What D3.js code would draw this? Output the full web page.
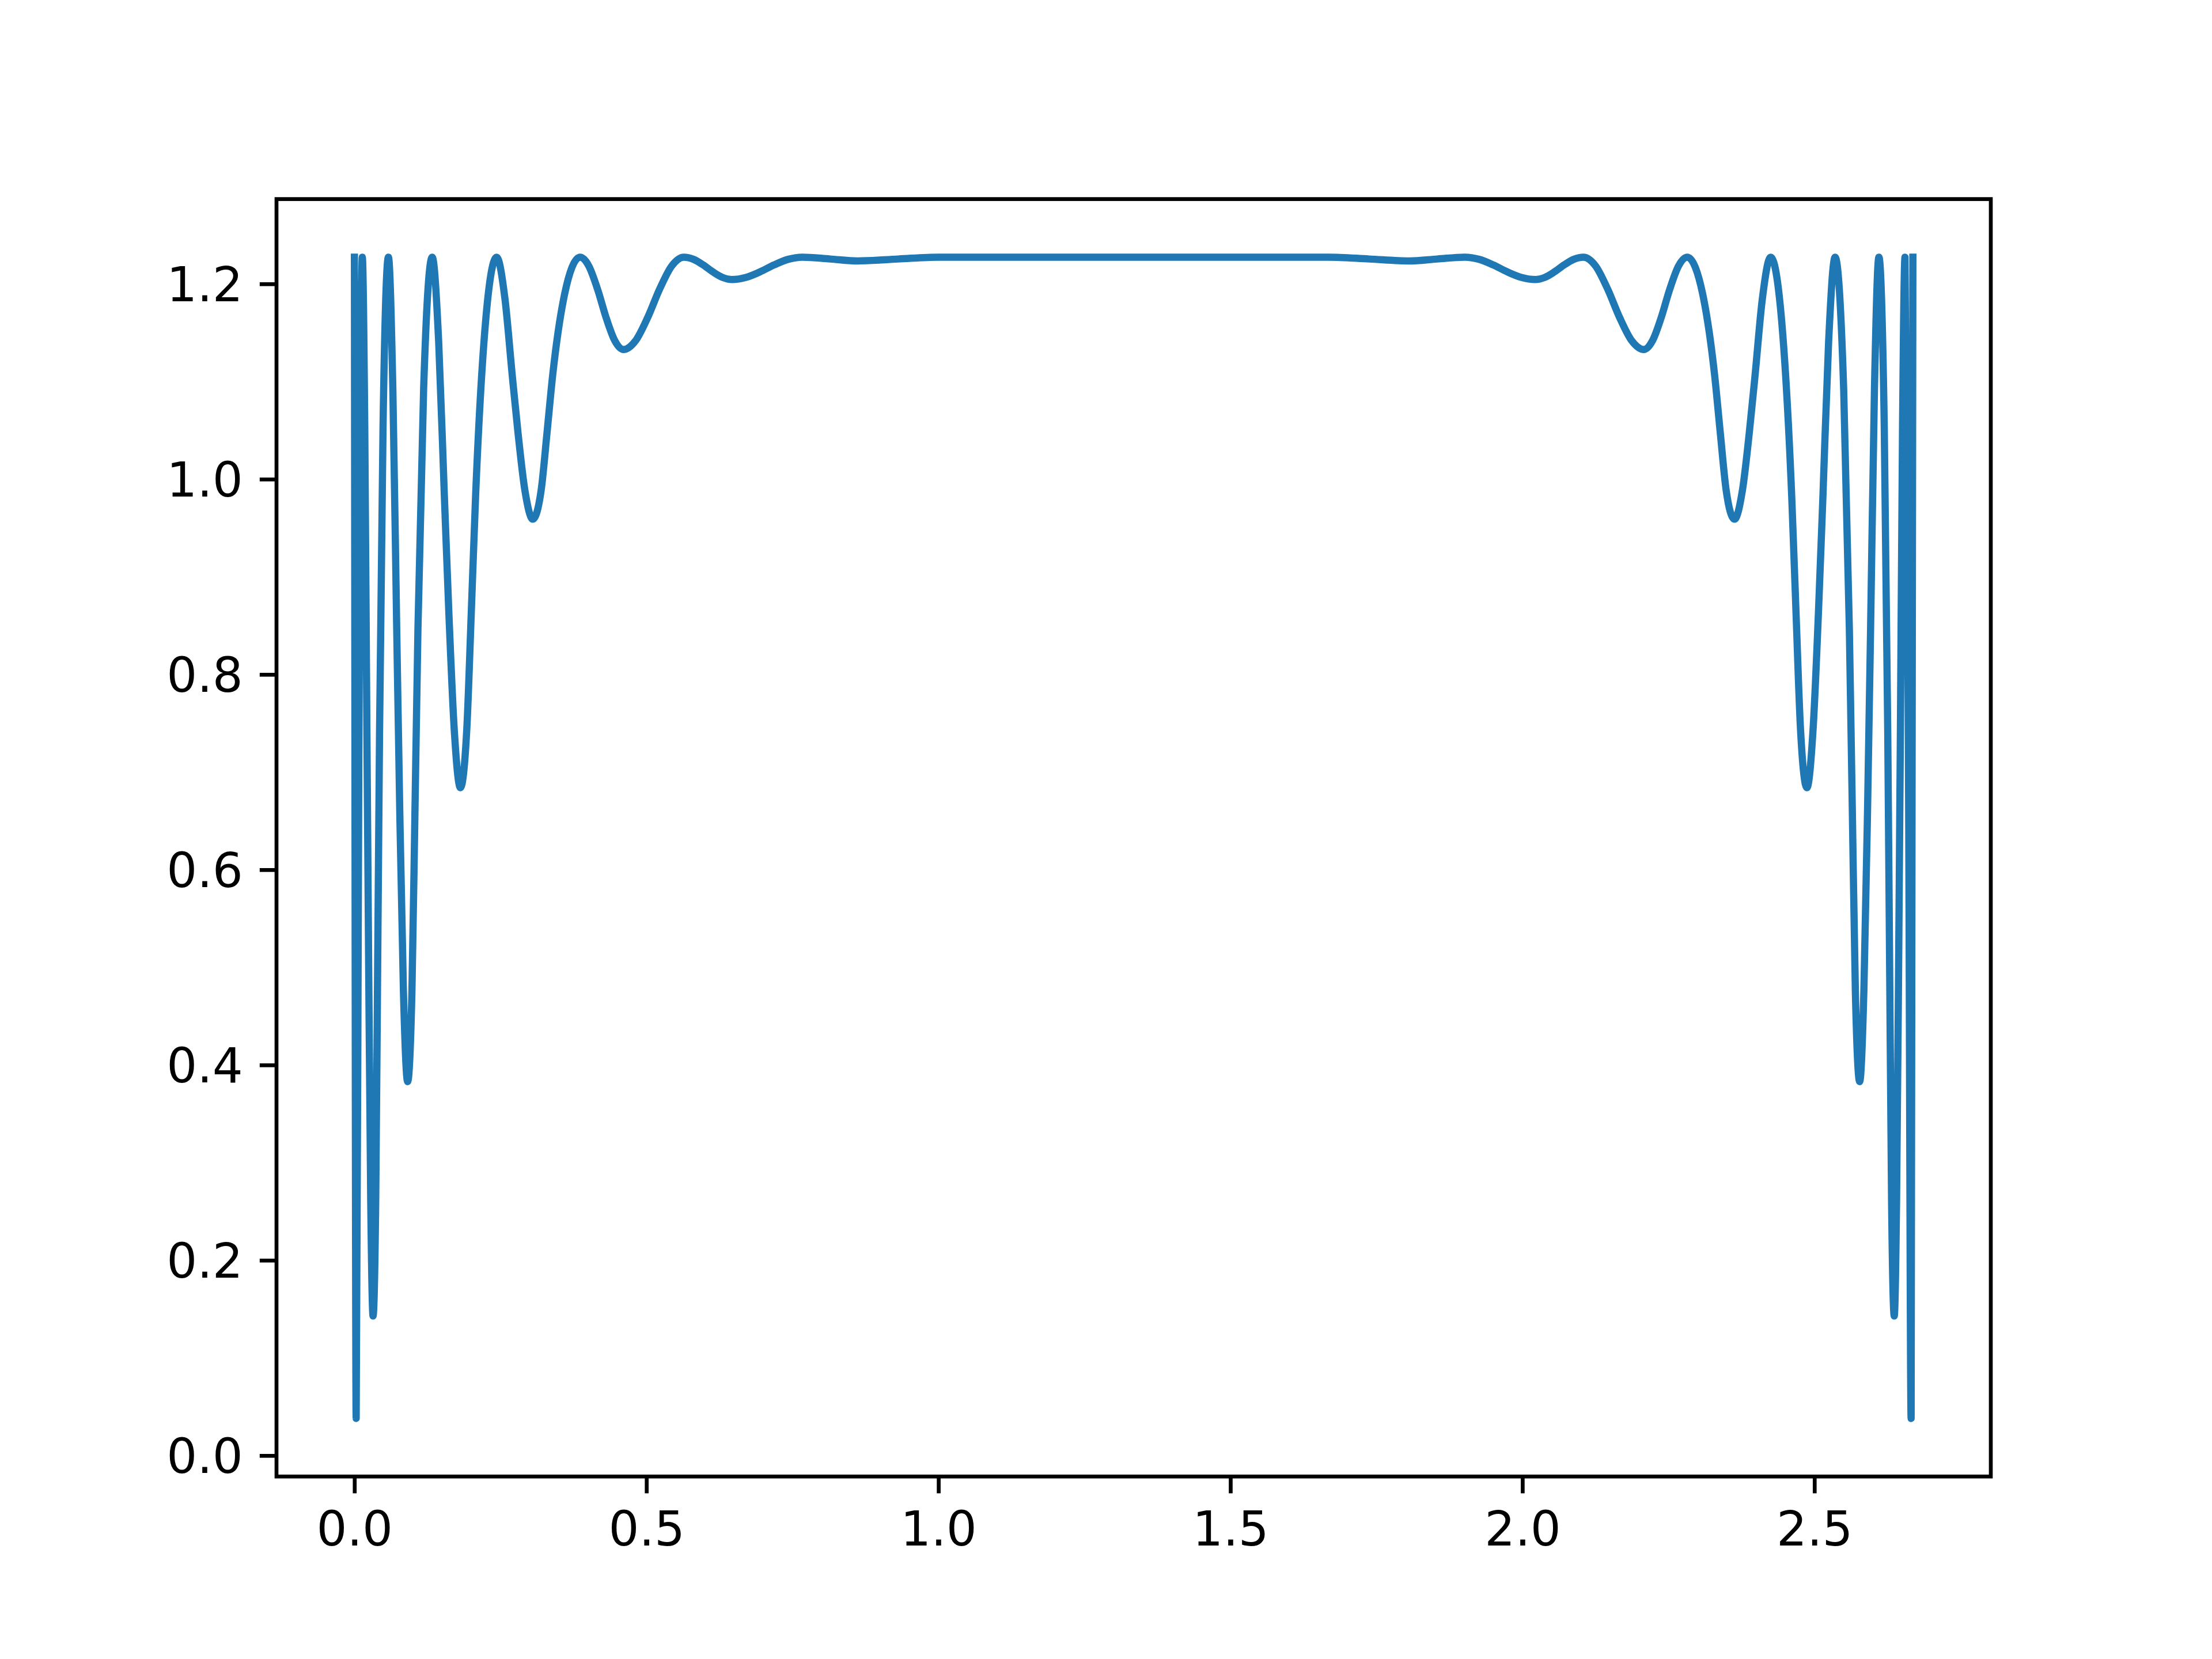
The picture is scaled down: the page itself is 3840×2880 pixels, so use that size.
<!DOCTYPE html>
<meta charset="utf-8">
<style>
  body, html {
    margin: 0;
    padding: 0;
    background: #fff;
  }
  svg {
    display: block;
  }
  .tick text {
    font: 83.33px "DejaVu Sans", sans-serif;
    fill: #000;
  }
</style>
<body>
<svg width="3840" height="2880"></svg>
<script src="https://cdnjs.cloudflare.com/ajax/libs/d3/7.8.5/d3.min.js"></script>
<script>
// values, left edge -> right edge
var xValues = [
  0.0000, 0.0030, 0.0074, 0.0135, 0.0177, 0.0214, 0.0244, 0.0279, 0.0319,
  0.0365, 0.0398, 0.0430, 0.0490, 0.0582, 0.0658, 0.0724, 0.0776, 0.0839,
  0.0911, 0.0985, 0.1037, 0.1088, 0.1185, 0.1332, 0.1443, 0.1540, 0.1617,
  0.1709, 0.1815, 0.1924, 0.2001, 0.2075, 0.2218, 0.2435, 0.2578, 0.2702,
  0.2801, 0.2919, 0.3055, 0.3197, 0.3298, 0.3395, 0.3582, 0.3865, 0.4013,
  0.4162, 0.4310, 0.4459, 0.4607, 0.4814, 0.5020, 0.5227, 0.5433, 0.5640,
  0.5805, 0.5970, 0.6136, 0.6301, 0.6466, 0.6707, 0.6948, 0.7188, 0.7429,
  0.7670, 0.8144, 0.8618, 0.9309, 1.0000, 1.1000, 1.2000, 1.3343, 1.4686,
  1.5686, 1.6686, 1.7377, 1.8068, 1.8542, 1.9016, 1.9257, 1.9498, 1.9738,
  1.9979, 2.0220, 2.0385, 2.0550, 2.0716, 2.0881, 2.1046, 2.1253, 2.1459,
  2.1666, 2.1872, 2.2079, 2.2227, 2.2376, 2.2524, 2.2673, 2.2821, 2.3104,
  2.3291, 2.3388, 2.3489, 2.3631, 2.3767, 2.3885, 2.3984, 2.4108, 2.4251,
  2.4468, 2.4611, 2.4685, 2.4762, 2.4871, 2.4977, 2.5069, 2.5146, 2.5243,
  2.5354, 2.5501, 2.5598, 2.5649, 2.5701, 2.5775, 2.5847, 2.5910, 2.5962,
  2.6028, 2.6104, 2.6196, 2.6256, 2.6288, 2.6321, 2.6367, 2.6407, 2.6442,
  2.6472, 2.6509, 2.6551, 2.6612, 2.6656, 2.6686
];

var yValues = [
  1.2274, 0.0380, 0.6920, 1.2274, 1.0539, 0.7394, 0.5009, 0.2623, 0.1430,
  0.2623, 0.5009, 0.7394, 1.0539, 1.2274, 1.0923, 0.8474, 0.6617, 0.4759,
  0.3830, 0.4759, 0.6617, 0.8474, 1.0923, 1.2274, 1.1405, 0.9829, 0.8633,
  0.7438, 0.6840, 0.7438, 0.8633, 0.9829, 1.1405, 1.2274, 1.1845, 1.1066,
  1.0476, 0.9885, 0.9590, 0.9885, 1.0476, 1.1066, 1.1845, 1.2274, 1.2184,
  1.1948, 1.1654, 1.1418, 1.1328, 1.1418, 1.1654, 1.1948, 1.2184, 1.2274,
  1.2252, 1.2195, 1.2124, 1.2067, 1.2045, 1.2067, 1.2124, 1.2195, 1.2252,
  1.2274, 1.2255, 1.2235, 1.2255, 1.2274, 1.2273, 1.2273, 1.2273, 1.2273,
  1.2273, 1.2274, 1.2255, 1.2235, 1.2255, 1.2274, 1.2252, 1.2195, 1.2124,
  1.2067, 1.2045, 1.2067, 1.2124, 1.2195, 1.2252, 1.2274, 1.2184, 1.1948,
  1.1654, 1.1418, 1.1328, 1.1418, 1.1654, 1.1948, 1.2184, 1.2274, 1.1845,
  1.1066, 1.0476, 0.9885, 0.9590, 0.9885, 1.0476, 1.1066, 1.1845, 1.2274,
  1.1405, 0.9829, 0.8633, 0.7438, 0.6840, 0.7438, 0.8633, 0.9829, 1.1405,
  1.2274, 1.0923, 0.8474, 0.6617, 0.4759, 0.3830, 0.4759, 0.6617, 0.8474,
  1.0923, 1.2274, 1.0539, 0.7394, 0.5009, 0.2623, 0.1430, 0.2623, 0.5009,
  0.7394, 1.0539, 1.2274, 0.6920, 0.0380, 1.2274
];

var xTicks = [0.0, 0.5, 1.0, 1.5, 2.0, 2.5];
var yTicks = [0.0, 0.2, 0.4, 0.6, 0.8, 1.0, 1.2];

// figure 6.4x4.8in at 600dpi -> 1pt = 600/72 px
var pt = 600 / 72;
var W = 3840, H = 2880;
var axLeft = 0.125 * W, axRight = 0.9 * W,
    axTop = (1 - 0.88) * H, axBottom = (1 - 0.11) * H;

var svg = d3.select("svg");

var data = xValues.map(function(x, i) { return {x: x, y: yValues[i]}; });

// matplotlib style 5% margins
function padded(ext) {
  var r = ext[1] - ext[0];
  return [ext[0] - 0.05 * r, ext[1] + 0.05 * r];
}

var x = d3.scaleLinear()
    .domain(padded(d3.extent(xValues)))
    .range([axLeft, axRight]);

var y = d3.scaleLinear()
    .domain(padded(d3.extent(yValues)))
    .range([axBottom, axTop]);

var line = d3.line()
    .x(function(d) { return x(d.x); })
    .y(function(d) { return y(d.y); })
    .curve(d3.curveMonotoneX);

svg.append("clipPath").attr("id", "axclip")
  .append("rect")
    .attr("x", axLeft).attr("y", axTop)
    .attr("width", axRight - axLeft).attr("height", axBottom - axTop);

svg.append("path")
    .datum(data)
    .attr("clip-path", "url(#axclip)")
    .attr("fill", "none")
    .attr("stroke", "#1f77b4")
    .attr("stroke-width", 1.5 * pt)
    .attr("stroke-linejoin", "round")
    .attr("stroke-linecap", "square")
    .attr("d", line);

var fmt = d3.format(".1f");

var xAxis = svg.append("g")
    .attr("transform", "translate(0," + axBottom + ")")
    .call(d3.axisBottom(x).tickValues(xTicks).tickFormat(fmt)
      .tickSize(3.5 * pt).tickPadding(3.5 * pt));

var yAxis = svg.append("g")
    .attr("transform", "translate(" + axLeft + ",0)")
    .call(d3.axisLeft(y).tickValues(yTicks).tickFormat(fmt)
      .tickSize(3.5 * pt).tickPadding(3.5 * pt));

[xAxis, yAxis].forEach(function(a) {
  a.attr("font-family", null).attr("font-size", null);
  a.select(".domain").remove();
  a.selectAll(".tick line")
      .attr("stroke", "#000")
      .attr("stroke-width", 0.8 * pt);
});

xAxis.selectAll(".tick text")
    .attr("dy", null)
    .attr("y", 3.5 * pt * 2 + 61);

yAxis.selectAll(".tick text")
    .attr("dy", null)
    .attr("y", 30);

// frame
svg.append("rect")
    .attr("x", axLeft)
    .attr("y", axTop)
    .attr("width", axRight - axLeft)
    .attr("height", axBottom - axTop)
    .attr("fill", "none")
    .attr("stroke", "#000")
    .attr("stroke-width", 0.8 * pt)
    .attr("stroke-linejoin", "miter");
</script>
</body>
